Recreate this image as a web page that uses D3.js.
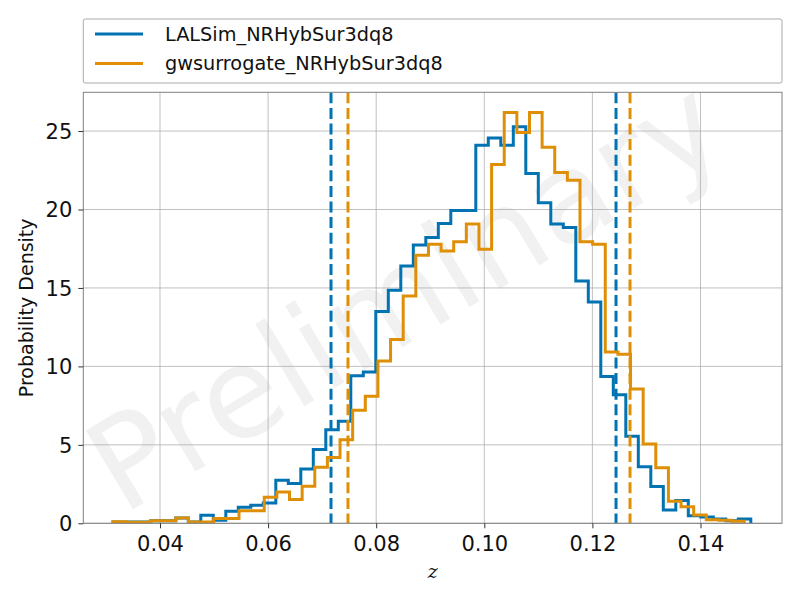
<!DOCTYPE html>
<html>
<head>
<meta charset="utf-8">
<script src="https://cdn.jsdelivr.net/npm/d3@7"></script>
<style>
  html, body { margin: 0; padding: 0; background: #fff; }
  svg { display: block; }
</style>
</head>
<body>
<svg id="chart" width="800" height="600"></svg>
<script>
// ---------------- data ----------------
const seriesNames = ["LALSim_NRHybSur3dq8", "gwsurrogate_NRHybSur3dq8"];
const seriesColors = ["#0173b2", "#de8f05"];

// LALSim histogram: first bin edge, bin width, densities
const blueStart = 0.03136;
const blueBinWidth = 0.0023127;
const blueDensity = [0.08, 0.08, 0.08, 0.17, 0.17, 0.34, 0.08, 0.51, 0.19, 0.77,
  1.02, 1.15, 1.3, 2.74, 2.53, 3.46, 4.7, 5.97, 6.5, 9.4,
  9.65, 13.5, 14.85, 16.4, 17.73, 18.22, 19.1, 19.94, 19.94, 24.1,
  24.55, 24.1, 25.27, 22.3, 20.43, 19.07, 18.86, 15.45, 14.1, 9.35,
  8.2, 5.55, 3.6, 2.35, 0.85, 1.45, 0.48, 0.4, 0.28, 0.17, 0.28];

// gwsurrogate histogram
const orangeStart = 0.031249;
const orangeBinWidth = 0.0023367;
const orangeDensity = [0.1, 0.06, 0.06, 0.17, 0.17, 0.34, 0.08, 0.08, 0.3, 0.3,
  0.8, 0.8, 1.66, 2.0, 1.52, 2.36, 3.57, 4.2, 5.32, 7.21,
  8.1, 10.35, 11.72, 14.48, 17.09, 17.79, 17.36, 17.94, 19.07, 17.47,
  22.87, 26.19, 24.9, 26.19, 23.96, 22.36, 21.87, 17.94, 17.79, 10.92,
  10.77, 8.56, 5.06, 3.54, 1.4, 1.05, 0.53, 0.22, 0.2, 0.13];

// 90% credible bounds (dashed lines)
const blueBounds = [0.07164, 0.12437];
const orangeBounds = [0.07478, 0.12696];

const xTicks = [0.04, 0.06, 0.08, 0.10, 0.12, 0.14];
const yTicks = [0, 5, 10, 15, 20, 25];
const xDomain = [0.02581, 0.155079];
const yDomain = [0, 27.47];
const xLabel = "z";
const yLabel = "Probability Density";
const watermark = "Preliminary";

// ---------------- layout ----------------
const L = 83.3, R = 782, T = 92.3, B = 523.3;
const svg = d3.select("#chart");
const x = d3.scaleLinear().domain(xDomain).range([L, R]);
const y = d3.scaleLinear().domain(yDomain).range([B, T]);

// watermark
svg.append("text")
  .attr("x", 405).attr("y", 295)
  .attr("transform", "rotate(-31,405,295)")
  .attr("text-anchor", "middle")
  .attr("dominant-baseline", "central")
  .attr("font-family", "DejaVu Sans")
  .attr("font-size", 126)
  .attr("fill", "#808080")
  .attr("fill-opacity", 0.11)
  .text(watermark);

// grid
const grid = svg.append("g");
grid.selectAll("line.gx").data(xTicks).join("line")
  .attr("x1", d => x(d)).attr("x2", d => x(d))
  .attr("y1", T).attr("y2", B)
  .attr("stroke", "#b0b0b0").attr("stroke-width", 0.8);
grid.selectAll("line.gy").data(yTicks).join("line")
  .attr("x1", L).attr("x2", R)
  .attr("y1", d => y(d)).attr("y2", d => y(d))
  .attr("stroke", "#b0b0b0").attr("stroke-width", 0.8);

// clip
svg.append("clipPath").attr("id", "clip")
  .append("rect").attr("x", L).attr("y", T).attr("width", R - L).attr("height", B - T);
const plot = svg.append("g").attr("clip-path", "url(#clip)");

function histPoints(start, width, dens) {
  const pts = [[start, 0]];
  dens.forEach((d, i) => pts.push([start + i * width, d]));
  pts.push([start + dens.length * width, 0]);
  return pts;
}
const line = d3.line().x(d => x(d[0])).y(d => y(d[1])).curve(d3.curveStepAfter);

function drawSeries(start, width, dens, bounds, color) {
  plot.append("path")
    .attr("d", line(histPoints(start, width, dens)))
    .attr("fill", "none")
    .attr("stroke", color)
    .attr("stroke-width", 3)
    .attr("stroke-linejoin", "miter");
  plot.selectAll(null).data(bounds).join("line")
    .attr("x1", d => x(d)).attr("x2", d => x(d))
    .attr("y1", T).attr("y2", B)
    .attr("stroke", color)
    .attr("stroke-width", 3)
    .attr("stroke-dasharray", "11,4.6");
}
drawSeries(blueStart, blueBinWidth, blueDensity, blueBounds, seriesColors[0]);
drawSeries(orangeStart, orangeBinWidth, orangeDensity, orangeBounds, seriesColors[1]);

// frame
svg.append("rect").attr("x", L).attr("y", T).attr("width", R - L).attr("height", B - T)
  .attr("fill", "none").attr("stroke", "#808080").attr("stroke-width", 1);

// axes
const xAxis = svg.append("g").attr("transform", `translate(0,${B})`)
  .call(d3.axisBottom(x).tickValues(xTicks).tickFormat(d3.format(".2f")).tickSizeOuter(0).tickSize(5).tickPadding(8));
const yAxis = svg.append("g").attr("transform", `translate(${L},0)`)
  .call(d3.axisLeft(y).tickValues(yTicks).tickFormat(d3.format("d")).tickSizeOuter(0).tickSize(5).tickPadding(6));
[xAxis, yAxis].forEach(a => {
  a.select(".domain").remove();
  a.selectAll(".tick line").attr("stroke", "#333").attr("stroke-width", 1);
  a.selectAll(".tick text").attr("font-family", "DejaVu Sans").attr("font-size", 21).attr("fill", "#111");
});
yAxis.selectAll(".tick text").attr("dy", "0.35em");

// axis labels
svg.append("text")
  .attr("x", (L + R) / 2).attr("y", 578)
  .attr("text-anchor", "middle")
  .attr("font-family", "DejaVu Serif")
  .attr("font-style", "italic")
  .attr("font-size", 19)
  .attr("fill", "#111")
  .text(xLabel);
svg.append("text")
  .attr("transform", `translate(33,${(T + B) / 2}) rotate(-90)`)
  .attr("text-anchor", "middle")
  .attr("font-family", "DejaVu Sans")
  .attr("font-size", 19)
  .attr("fill", "#111")
  .text(yLabel);

// legend
const lg = svg.append("g");
lg.append("rect").attr("x", L).attr("y", 19).attr("width", R - L).attr("height", 64)
  .attr("rx", 2).attr("fill", "#fff").attr("stroke", "#aaaaaa").attr("stroke-width", 1);
seriesNames.forEach((name, i) => {
  const yy = 34 + i * 29.5;
  lg.append("line").attr("x1", 95).attr("x2", 143).attr("y1", yy).attr("y2", yy)
    .attr("stroke", seriesColors[i]).attr("stroke-width", 3);
  lg.append("text").attr("x", 165).attr("y", yy).attr("dy", "0.36em")
    .attr("font-family", "DejaVu Sans").attr("font-size", 19.3).attr("fill", "#111")
    .text(name);
});
</script>
</body>
</html>
